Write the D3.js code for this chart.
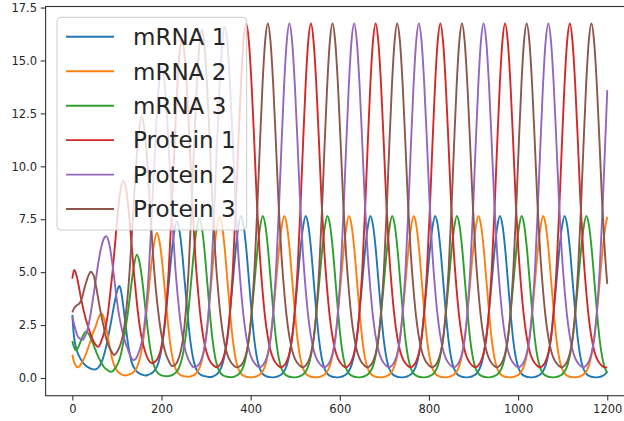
<!DOCTYPE html>
<html>
<head>
<meta charset="utf-8">
<script src="https://cdn.jsdelivr.net/npm/d3@7"></script>
<style>
  html, body { margin: 0; padding: 0; background: #fff; }
  svg { display: block; font-family: "DejaVu Sans", sans-serif; }
</style>
</head>
<body>
<div id="chart"></div>
<script>
const seriesNames = ["mRNA 1", "mRNA 2", "mRNA 3", "Protein 1", "Protein 2", "Protein 3"];
const xTicks = [0, 200, 400, 600, 800, 1000, 1200];
const yTicks = [0, 2.5, 5, 7.5, 10, 12.5, 15, 17.5];

// [time, level]
const mRNA1 = [
  [0,2.98],[3,2.1],[6,1.65],[10,1.3],[16,1.0],[24,0.72],[32,0.55],[40,0.45],[48,0.4],[55,0.43],[62,0.6],[68,0.88],[74,1.32],[80,1.9],[86,2.55],[92,3.25],[98,3.9],[102,4.22],[105.5,4.35],[109,4.15],[112,3.75],[115.5,3.2],[120,2.4],[126.5,1.4],[133,0.75],[141.5,0.38],[150,0.22],[158,0.15],[165,0.12],[170,0.15],[174.4,0.19],[180.4,0.26],[186.4,0.41],[192.4,0.68],[198.4,1.18],[204.4,1.99],[210.4,3.14],[216.4,4.5],[222.4,5.83],[228.4,6.88],[234.4,7.38],[240.4,6.95],[246.4,5.9],[252.4,4.47],[258.4,3.05],[264.4,1.8],[270.4,0.98],[276.4,0.5],[282.4,0.26],[288.4,0.15],[294.4,0.1],[300.4,0.07],[306.4,0.05],
  [312.2,0.05],[318.2,0.1],[324.2,0.18],[330.2,0.33],[336.2,0.62],[342.2,1.15],[348.2,2.0],[354.2,3.2],[360.2,4.6],[366.2,6.0],[372.2,7.1],[378.2,7.65],[384.2,7.2],[390.2,6.1],[396.2,4.6],[402.2,3.1],[408.2,1.8],[414.2,0.95],[420.2,0.46],[426.2,0.22],[432.2,0.11],[438.2,0.06],[444.2,0.04],[450.8,0.03],
  [457.4,0.05],[463.4,0.1],[469.4,0.18],[475.4,0.33],[481.4,0.62],[487.4,1.15],[493.4,2.0],[499.4,3.2],[505.4,4.6],[511.4,6.0],[517.4,7.1],[523.4,7.65],[529.4,7.2],[535.4,6.1],[541.4,4.6],[547.4,3.1],[553.4,1.8],[559.4,0.95],[565.4,0.46],[571.4,0.22],[577.4,0.11],[583.4,0.06],[589.4,0.04],[596,0.03],
  [602.6,0.05],[608.6,0.1],[614.6,0.18],[620.6,0.33],[626.6,0.62],[632.6,1.15],[638.6,2.0],[644.6,3.2],[650.6,4.6],[656.6,6.0],[662.6,7.1],[668.6,7.65],[674.6,7.2],[680.6,6.1],[686.6,4.6],[692.6,3.1],[698.6,1.8],[704.6,0.95],[710.6,0.46],[716.6,0.22],[722.6,0.11],[728.6,0.06],[734.6,0.04],[741.2,0.03],
  [747.8,0.05],[753.8,0.1],[759.8,0.18],[765.8,0.33],[771.8,0.62],[777.8,1.15],[783.8,2.0],[789.8,3.2],[795.8,4.6],[801.8,6.0],[807.8,7.1],[813.8,7.65],[819.8,7.2],[825.8,6.1],[831.8,4.6],[837.8,3.1],[843.8,1.8],[849.8,0.95],[855.8,0.46],[861.8,0.22],[867.8,0.11],[873.8,0.06],[879.8,0.04],[886.4,0.03],
  [893,0.05],[899,0.1],[905,0.18],[911,0.33],[917,0.62],[923,1.15],[929,2.0],[935,3.2],[941,4.6],[947,6.0],[953,7.1],[959,7.65],[965,7.2],[971,6.1],[977,4.6],[983,3.1],[989,1.8],[995,0.95],[1001,0.46],[1007,0.22],[1013,0.11],[1019,0.06],[1025,0.04],[1031.6,0.03],
  [1038.2,0.05],[1044.2,0.1],[1050.2,0.18],[1056.2,0.33],[1062.2,0.62],[1068.2,1.15],[1074.2,2.0],[1080.2,3.2],[1086.2,4.6],[1092.2,6.0],[1098.2,7.1],[1104.2,7.65],[1110.2,7.2],[1116.2,6.1],[1122.2,4.6],[1128.2,3.1],[1134.2,1.8],[1140.2,0.95],[1146.2,0.46],[1152.2,0.22],[1158.2,0.11],[1164.2,0.06],[1170.2,0.04],[1176.8,0.03],
  [1183.4,0.05],[1189.4,0.1],[1195.4,0.18],[1200,0.3]
];

const mRNA2 = [
  [0,1.1],[4,0.75],[7.6,0.6],[11,0.5],[16,0.55],[22,0.75],[28,1.0],[33.7,1.32],[40,1.7],[46,2.1],[52.5,2.45],[58,2.8],[62,2.98],[65.2,3.05],[69,2.95],[73,2.65],[78.6,2.1],[84,1.45],[90,0.85],[96,0.5],[102,0.3],[108,0.2],[114,0.14],[120,0.12],[123.5,0.14],[129.5,0.18],[135.5,0.25],[141.5,0.38],[147.5,0.64],[153.5,1.11],[159.5,1.86],[165.5,2.92],[171.5,4.16],[177.5,5.41],[183.5,6.36],[189.5,6.85],[195.5,6.44],[201.5,5.47],[207.5,4.13],[213.5,2.79],[219.5,1.63],[225.5,0.88],[231.5,0.44],[237.5,0.23],[243.5,0.13],[249.5,0.09],[255.5,0.07],[262,0.06],[270,0.11],[276,0.19],[282,0.34],[288,0.63],[294,1.16],[300,2.0],[306,3.2],[312,4.59],[318,5.98],[324,7.07],[330,7.62],[336,7.17],[342,6.08],[348,4.59],[354,3.09],[360,1.8],[366,0.95],[372,0.46],[378,0.22],[384,0.11],[390,0.06],[396,0.04],[402.6,0.03],
  [409.3,0.05],[415.3,0.1],[421.3,0.18],[427.3,0.33],[433.3,0.62],[439.3,1.15],[445.3,2.0],[451.3,3.2],[457.3,4.6],[463.3,6.0],[469.3,7.1],[475.3,7.65],[481.3,7.2],[487.3,6.1],[493.3,4.6],[499.3,3.1],[505.3,1.8],[511.3,0.95],[517.3,0.46],[523.3,0.22],[529.3,0.11],[535.3,0.06],[541.3,0.04],[547.9,0.03],
  [554.5,0.05],[560.5,0.1],[566.5,0.18],[572.5,0.33],[578.5,0.62],[584.5,1.15],[590.5,2.0],[596.5,3.2],[602.5,4.6],[608.5,6.0],[614.5,7.1],[620.5,7.65],[626.5,7.2],[632.5,6.1],[638.5,4.6],[644.5,3.1],[650.5,1.8],[656.5,0.95],[662.5,0.46],[668.5,0.22],[674.5,0.11],[680.5,0.06],[686.5,0.04],[693.1,0.03],
  [699.7,0.05],[705.7,0.1],[711.7,0.18],[717.7,0.33],[723.7,0.62],[729.7,1.15],[735.7,2.0],[741.7,3.2],[747.7,4.6],[753.7,6.0],[759.7,7.1],[765.7,7.65],[771.7,7.2],[777.7,6.1],[783.7,4.6],[789.7,3.1],[795.7,1.8],[801.7,0.95],[807.7,0.46],[813.7,0.22],[819.7,0.11],[825.7,0.06],[831.7,0.04],[838.3,0.03],
  [844.9,0.05],[850.9,0.1],[856.9,0.18],[862.9,0.33],[868.9,0.62],[874.9,1.15],[880.9,2.0],[886.9,3.2],[892.9,4.6],[898.9,6.0],[904.9,7.1],[910.9,7.65],[916.9,7.2],[922.9,6.1],[928.9,4.6],[934.9,3.1],[940.9,1.8],[946.9,0.95],[952.9,0.46],[958.9,0.22],[964.9,0.11],[970.9,0.06],[976.9,0.04],[983.5,0.03],
  [990.1,0.05],[996.1,0.1],[1002.1,0.18],[1008.1,0.33],[1014.1,0.62],[1020.1,1.15],[1026.1,2.0],[1032.1,3.2],[1038.1,4.6],[1044.1,6.0],[1050.1,7.1],[1056.1,7.65],[1062.1,7.2],[1068.1,6.1],[1074.1,4.6],[1080.1,3.1],[1086.1,1.8],[1092.1,0.95],[1098.1,0.46],[1104.1,0.22],[1110.1,0.11],[1116.1,0.06],[1122.1,0.04],[1128.7,0.03],
  [1135.3,0.05],[1141.3,0.1],[1147.3,0.18],[1153.3,0.33],[1159.3,0.62],[1165.3,1.15],[1171.3,2.0],[1177.3,3.2],[1183.3,4.6],[1189.3,6.0],[1195.3,7.1],[1200,7.62]
];

const mRNA3 = [
  [0,1.75],[3,1.5],[7.6,1.32],[12,1.4],[18,1.7],[24,2.0],[30,2.19],[36,2.1],[42,1.85],[48.7,1.5],[56,1.1],[63.7,0.77],[71,0.52],[78.6,0.38],[86,0.29],[91,0.33],[96.6,0.48],[102.6,0.7],[108.6,1.09],[114.6,1.71],[120.6,2.5],[126.6,3.4],[132.6,4.45],[138.6,5.35],[144.6,5.82],[150.6,5.48],[156.6,4.65],[162.6,3.52],[168.6,2.39],[174.6,1.41],[180.6,0.77],[186.6,0.4],[192.6,0.22],[198.6,0.14],[204.6,0.1],[212,0.08],[218.5,0.1],[224.5,0.15],[230.5,0.23],[236.5,0.37],[242.5,0.66],[248.5,1.17],[254.5,2.0],[260.5,3.18],[266.5,4.56],[272.5,5.93],[278.5,7.0],[284.5,7.55],[290.5,7.1],[296.5,6.03],[302.5,4.55],[308.5,3.07],[314.5,1.8],[320.5,0.96],[326.5,0.47],[332.5,0.23],[338.5,0.12],[344.5,0.07],[350.5,0.05],[356,0.04],
  [361,0.05],[367,0.1],[373,0.18],[379,0.33],[385,0.62],[391,1.15],[397,2.0],[403,3.2],[409,4.6],[415,6.0],[421,7.1],[427,7.65],[433,7.2],[439,6.1],[445,4.6],[451,3.1],[457,1.8],[463,0.95],[469,0.46],[475,0.22],[481,0.11],[487,0.06],[493,0.04],[499.6,0.03],
  [506.2,0.05],[512.2,0.1],[518.2,0.18],[524.2,0.33],[530.2,0.62],[536.2,1.15],[542.2,2.0],[548.2,3.2],[554.2,4.6],[560.2,6.0],[566.2,7.1],[572.2,7.65],[578.2,7.2],[584.2,6.1],[590.2,4.6],[596.2,3.1],[602.2,1.8],[608.2,0.95],[614.2,0.46],[620.2,0.22],[626.2,0.11],[632.2,0.06],[638.2,0.04],[644.8,0.03],
  [651.4,0.05],[657.4,0.1],[663.4,0.18],[669.4,0.33],[675.4,0.62],[681.4,1.15],[687.4,2.0],[693.4,3.2],[699.4,4.6],[705.4,6.0],[711.4,7.1],[717.4,7.65],[723.4,7.2],[729.4,6.1],[735.4,4.6],[741.4,3.1],[747.4,1.8],[753.4,0.95],[759.4,0.46],[765.4,0.22],[771.4,0.11],[777.4,0.06],[783.4,0.04],[790,0.03],
  [796.6,0.05],[802.6,0.1],[808.6,0.18],[814.6,0.33],[820.6,0.62],[826.6,1.15],[832.6,2.0],[838.6,3.2],[844.6,4.6],[850.6,6.0],[856.6,7.1],[862.6,7.65],[868.6,7.2],[874.6,6.1],[880.6,4.6],[886.6,3.1],[892.6,1.8],[898.6,0.95],[904.6,0.46],[910.6,0.22],[916.6,0.11],[922.6,0.06],[928.6,0.04],[935.2,0.03],
  [941.8,0.05],[947.8,0.1],[953.8,0.18],[959.8,0.33],[965.8,0.62],[971.8,1.15],[977.8,2.0],[983.8,3.2],[989.8,4.6],[995.8,6.0],[1001.8,7.1],[1007.8,7.65],[1013.8,7.2],[1019.8,6.1],[1025.8,4.6],[1031.8,3.1],[1037.8,1.8],[1043.8,0.95],[1049.8,0.46],[1055.8,0.22],[1061.8,0.11],[1067.8,0.06],[1073.8,0.04],[1080.4,0.03],
  [1087,0.05],[1093,0.1],[1099,0.18],[1105,0.33],[1111,0.62],[1117,1.15],[1123,2.0],[1129,3.2],[1135,4.6],[1141,6.0],[1147,7.1],[1153,7.65],[1159,7.2],[1165,6.1],[1171,4.6],[1177,3.1],[1183,1.8],[1189,0.95],[1195,0.46],[1200,0.25]
];

const protein1 = [
  [0,4.7],[4,5.1],[10,4.8],[16,4.15],[22,3.5],[30,2.8],[38,2.25],[45,1.85],[52,1.58],[58,1.47],[66,1.8],[72,2.2],[78.5,2.85],[84.5,3.9],[90.5,5.1],[96.5,6.5],[102.5,7.9],[108.5,8.95],[114.5,9.3],[120.5,8.95],[126.5,7.9],[132.5,6.4],[138.5,4.9],[144.5,3.6],[150.5,2.55],[156.5,1.8],[162.5,1.3],[168.5,0.95],[174.5,0.75],[180,0.7],[186,0.78],[192,0.95],[198,1.3],[204,2.0],[210,3.2],[216,5.0],[222,7.5],[228,10.4],[234,13.2],[240,15.2],[246,16.0],[252,15.2],[258,13.3],[264,10.7],[270,7.9],[276,5.7],[282,4.1],[288,2.8],[294,1.9],[300,1.3],[306,0.92],[312,0.7],[318,0.57],[324,0.5],
  [330,0.6],[336,0.8],[342,1.2],[348,1.9],[354,3.2],[360,5.1],[366,7.8],[372,10.9],[378,13.8],[384,15.9],[390,16.75],[396,15.9],[402,13.9],[408,11.2],[414,8.3],[420,6.0],[426,4.3],[432,2.95],[438,2.0],[444,1.35],[450,0.95],[456,0.72],[462,0.58],[468,0.5],
  [475.2,0.6],[481.2,0.8],[487.2,1.2],[493.2,1.9],[499.2,3.2],[505.2,5.1],[511.2,7.8],[517.2,10.9],[523.2,13.8],[529.2,15.9],[535.2,16.75],[541.2,15.9],[547.2,13.9],[553.2,11.2],[559.2,8.3],[565.2,6.0],[571.2,4.3],[577.2,2.95],[583.2,2.0],[589.2,1.35],[595.2,0.95],[601.2,0.72],[607.2,0.58],[613.2,0.5],
  [620.4,0.6],[626.4,0.8],[632.4,1.2],[638.4,1.9],[644.4,3.2],[650.4,5.1],[656.4,7.8],[662.4,10.9],[668.4,13.8],[674.4,15.9],[680.4,16.75],[686.4,15.9],[692.4,13.9],[698.4,11.2],[704.4,8.3],[710.4,6.0],[716.4,4.3],[722.4,2.95],[728.4,2.0],[734.4,1.35],[740.4,0.95],[746.4,0.72],[752.4,0.58],[758.4,0.5],
  [765.6,0.6],[771.6,0.8],[777.6,1.2],[783.6,1.9],[789.6,3.2],[795.6,5.1],[801.6,7.8],[807.6,10.9],[813.6,13.8],[819.6,15.9],[825.6,16.75],[831.6,15.9],[837.6,13.9],[843.6,11.2],[849.6,8.3],[855.6,6.0],[861.6,4.3],[867.6,2.95],[873.6,2.0],[879.6,1.35],[885.6,0.95],[891.6,0.72],[897.6,0.58],[903.6,0.5],
  [910.8,0.6],[916.8,0.8],[922.8,1.2],[928.8,1.9],[934.8,3.2],[940.8,5.1],[946.8,7.8],[952.8,10.9],[958.8,13.8],[964.8,15.9],[970.8,16.75],[976.8,15.9],[982.8,13.9],[988.8,11.2],[994.8,8.3],[1000.8,6.0],[1006.8,4.3],[1012.8,2.95],[1018.8,2.0],[1024.8,1.35],[1030.8,0.95],[1036.8,0.72],[1042.8,0.58],[1048.8,0.5],
  [1056,0.6],[1062,0.8],[1068,1.2],[1074,1.9],[1080,3.2],[1086,5.1],[1092,7.8],[1098,10.9],[1104,13.8],[1110,15.9],[1116,16.75],[1122,15.9],[1128,13.9],[1134,11.2],[1140,8.3],[1146,6.0],[1152,4.3],[1158,2.95],[1164,2.0],[1170,1.35],[1176,0.95],[1182,0.72],[1188,0.58],[1194,0.5],[1200,0.5]
];

const protein2 = [
  [0,2.9],[5,2.45],[11,2.03],[17,1.85],[22.5,1.8],[28,1.95],[34,2.3],[40,2.9],[46,3.7],[52,4.55],[58,5.4],[64,6.1],[70,6.55],[76,6.7],[82,6.4],[88,5.68],[94,4.7],[100,3.66],[106,2.83],[112,2.22],[118,1.73],[124,1.39],[130,1.05],[137,0.85],[142,0.9],[146.8,1.1],[152.8,1.45],[158.8,2.04],[164.8,3.15],[170.8,4.77],[176.8,7.07],[182.8,9.71],[188.8,12.18],[194.8,13.98],[200.8,14.7],[206.8,13.96],[212.8,12.21],[218.8,9.83],[224.8,7.3],[230.8,5.27],[236.8,3.79],[242.8,2.61],[248.8,1.77],[254.8,1.2],[260.8,0.86],[266.8,0.62],[272.8,0.5],[282,0.6],[288,0.79],[294,1.19],[300,1.88],[306,3.17],[312,5.06],[318,7.73],[324,10.8],[330,13.67],[336,15.76],[342,16.6],[348,15.76],[354,13.78],[360,11.1],[366,8.23],[372,5.94],[378,4.27],[384,2.93],[390,1.98],[396,1.34],[402,0.95],[408,0.72],[414,0.58],[420,0.5],
  [427,0.6],[433,0.8],[439,1.2],[445,1.9],[451,3.2],[457,5.1],[463,7.8],[469,10.9],[475,13.8],[481,15.9],[487,16.75],[493,15.9],[499,13.9],[505,11.2],[511,8.3],[517,6.0],[523,4.3],[529,2.95],[535,2.0],[541,1.35],[547,0.95],[553,0.72],[559,0.58],[565,0.5],
  [572.2,0.6],[578.2,0.8],[584.2,1.2],[590.2,1.9],[596.2,3.2],[602.2,5.1],[608.2,7.8],[614.2,10.9],[620.2,13.8],[626.2,15.9],[632.2,16.75],[638.2,15.9],[644.2,13.9],[650.2,11.2],[656.2,8.3],[662.2,6.0],[668.2,4.3],[674.2,2.95],[680.2,2.0],[686.2,1.35],[692.2,0.95],[698.2,0.72],[704.2,0.58],[710.2,0.5],
  [717.4,0.6],[723.4,0.8],[729.4,1.2],[735.4,1.9],[741.4,3.2],[747.4,5.1],[753.4,7.8],[759.4,10.9],[765.4,13.8],[771.4,15.9],[777.4,16.75],[783.4,15.9],[789.4,13.9],[795.4,11.2],[801.4,8.3],[807.4,6.0],[813.4,4.3],[819.4,2.95],[825.4,2.0],[831.4,1.35],[837.4,0.95],[843.4,0.72],[849.4,0.58],[855.4,0.5],
  [862.6,0.6],[868.6,0.8],[874.6,1.2],[880.6,1.9],[886.6,3.2],[892.6,5.1],[898.6,7.8],[904.6,10.9],[910.6,13.8],[916.6,15.9],[922.6,16.75],[928.6,15.9],[934.6,13.9],[940.6,11.2],[946.6,8.3],[952.6,6.0],[958.6,4.3],[964.6,2.95],[970.6,2.0],[976.6,1.35],[982.6,0.95],[988.6,0.72],[994.6,0.58],[1000.6,0.5],
  [1007.8,0.6],[1013.8,0.8],[1019.8,1.2],[1025.8,1.9],[1031.8,3.2],[1037.8,5.1],[1043.8,7.8],[1049.8,10.9],[1055.8,13.8],[1061.8,15.9],[1067.8,16.75],[1073.8,15.9],[1079.8,13.9],[1085.8,11.2],[1091.8,8.3],[1097.8,6.0],[1103.8,4.3],[1109.8,2.95],[1115.8,2.0],[1121.8,1.35],[1127.8,0.95],[1133.8,0.72],[1139.8,0.58],[1145.8,0.5],
  [1153,0.6],[1159,0.8],[1165,1.2],[1171,1.9],[1177,3.2],[1183,5.1],[1189,7.8],[1195,10.9],[1200,13.6]
];

const protein3 = [
  [0,3.1],[4,3.3],[11,3.45],[17,3.55],[22,3.8],[26,4.15],[30,4.45],[34,4.72],[38,4.93],[41.3,5.02],[45,4.95],[48.7,4.78],[52,4.45],[56,4.0],[60,3.5],[64,3.05],[70,2.45],[75,1.95],[80,1.6],[86,1.32],[93.6,1.09],[101.8,1.29],[107.8,1.57],[113.8,2.06],[119.8,2.96],[125.8,4.28],[131.8,6.15],[137.8,8.3],[143.8,10.3],[149.8,11.76],[155.8,12.35],[161.8,11.74],[167.8,10.28],[173.8,8.31],[179.8,6.2],[185.8,4.53],[191.8,3.3],[197.8,2.31],[203.8,1.62],[209.8,1.13],[215.8,0.82],[224,0.57],[230.6,0.62],[236.6,0.82],[242.6,1.21],[248.6,1.9],[254.6,3.17],[260.6,5.03],[266.6,7.68],[272.6,10.72],[278.6,13.55],[284.6,15.62],[290.6,16.45],[296.6,15.62],[302.6,13.66],[308.6,11.0],[314.6,8.16],[320.6,5.89],[326.6,4.23],[332.6,2.91],[338.6,1.97],[344.6,1.33],[350.6,0.95],[356.6,0.72],[362.6,0.58],[368.6,0.5],
  [378.5,0.6],[384.5,0.8],[390.5,1.2],[396.5,1.9],[402.5,3.2],[408.5,5.1],[414.5,7.8],[420.5,10.9],[426.5,13.8],[432.5,15.9],[438.5,16.75],[444.5,15.9],[450.5,13.9],[456.5,11.2],[462.5,8.3],[468.5,6.0],[474.5,4.3],[480.5,2.95],[486.5,2.0],[492.5,1.35],[498.5,0.95],[504.5,0.72],[510.5,0.58],[516.5,0.5],
  [523.7,0.6],[529.7,0.8],[535.7,1.2],[541.7,1.9],[547.7,3.2],[553.7,5.1],[559.7,7.8],[565.7,10.9],[571.7,13.8],[577.7,15.9],[583.7,16.75],[589.7,15.9],[595.7,13.9],[601.7,11.2],[607.7,8.3],[613.7,6.0],[619.7,4.3],[625.7,2.95],[631.7,2.0],[637.7,1.35],[643.7,0.95],[649.7,0.72],[655.7,0.58],[661.7,0.5],
  [668.9,0.6],[674.9,0.8],[680.9,1.2],[686.9,1.9],[692.9,3.2],[698.9,5.1],[704.9,7.8],[710.9,10.9],[716.9,13.8],[722.9,15.9],[728.9,16.75],[734.9,15.9],[740.9,13.9],[746.9,11.2],[752.9,8.3],[758.9,6.0],[764.9,4.3],[770.9,2.95],[776.9,2.0],[782.9,1.35],[788.9,0.95],[794.9,0.72],[800.9,0.58],[806.9,0.5],
  [814.1,0.6],[820.1,0.8],[826.1,1.2],[832.1,1.9],[838.1,3.2],[844.1,5.1],[850.1,7.8],[856.1,10.9],[862.1,13.8],[868.1,15.9],[874.1,16.75],[880.1,15.9],[886.1,13.9],[892.1,11.2],[898.1,8.3],[904.1,6.0],[910.1,4.3],[916.1,2.95],[922.1,2.0],[928.1,1.35],[934.1,0.95],[940.1,0.72],[946.1,0.58],[952.1,0.5],
  [959.3,0.6],[965.3,0.8],[971.3,1.2],[977.3,1.9],[983.3,3.2],[989.3,5.1],[995.3,7.8],[1001.3,10.9],[1007.3,13.8],[1013.3,15.9],[1019.3,16.75],[1025.3,15.9],[1031.3,13.9],[1037.3,11.2],[1043.3,8.3],[1049.3,6.0],[1055.3,4.3],[1061.3,2.95],[1067.3,2.0],[1073.3,1.35],[1079.3,0.95],[1085.3,0.72],[1091.3,0.58],[1097.3,0.5],
  [1104.5,0.6],[1110.5,0.8],[1116.5,1.2],[1122.5,1.9],[1128.5,3.2],[1134.5,5.1],[1140.5,7.8],[1146.5,10.9],[1152.5,13.8],[1158.5,15.9],[1164.5,16.75],[1170.5,15.9],[1176.5,13.9],[1182.5,11.2],[1188.5,8.3],[1194.5,6.0],[1200,4.45]
];

const allSeries = [mRNA1, mRNA2, mRNA3, protein1, protein2, protein3];

const width = 624;
const height = 421;
const plot = { left: 45.6, right: 634, top: 6.5, bottom: 395.7 };

const svg = d3
  .select("#chart")
  .append("svg")
  .attr("width", width)
  .attr("height", height)
  .attr("viewBox", [0, 0, width, height]);

const x = d3.scaleLinear().domain([-60, 1260]).range([plot.left, plot.right]);
const y = d3.scaleLinear().domain([-0.836, 17.55]).range([plot.bottom, plot.top]);

const color = d3.scaleOrdinal().domain(seriesNames).range(d3.schemeCategory10);

const line = d3
  .line()
  .x((d) => x(d[0]))
  .y((d) => y(d[1]))
  .curve(d3.curveMonotoneX);

svg
  .append("g")
  .selectAll("path")
  .data(allSeries)
  .join("path")
  .attr("d", line)
  .attr("fill", "none")
  .attr("stroke", (d, i) => color(seriesNames[i]))
  .attr("stroke-width", 1.9)
  .attr("stroke-linejoin", "round");

// axes
const xAxis = svg
  .append("g")
  .attr("transform", `translate(0, ${plot.bottom})`)
  .call(
    d3.axisBottom(x).tickValues(xTicks).tickFormat(d3.format("d")).tickSize(4.9).tickPadding(4.3)
  );

const yAxis = svg
  .append("g")
  .attr("transform", `translate(${plot.left}, 0)`)
  .call(
    d3.axisLeft(y).tickValues(yTicks).tickFormat(d3.format(".1f")).tickSize(4.9).tickPadding(3.6)
  );

[xAxis, yAxis].forEach((g) => {
  g.select(".domain").remove();
  g.selectAll("line").attr("stroke", "#333").attr("stroke-width", 1.1);
  g.selectAll("text")
    .attr("fill", "#262626")
    .style("font-size", "11.5px")
    .style("font-family", '"DejaVu Sans", sans-serif');
});

// spines
svg
  .append("rect")
  .attr("x", plot.left)
  .attr("y", plot.top)
  .attr("width", plot.right - plot.left)
  .attr("height", plot.bottom - plot.top)
  .attr("fill", "none")
  .attr("stroke", "#333")
  .attr("stroke-width", 1.1);

// legend
const legend = svg.append("g").attr("class", "legend");

legend
  .append("rect")
  .attr("x", 57)
  .attr("y", 17.3)
  .attr("width", 189.7)
  .attr("height", 212.7)
  .attr("rx", 4)
  .attr("fill", "#fff")
  .attr("fill-opacity", 0.8)
  .attr("stroke", "#ccc")
  .attr("stroke-width", 1);

const items = legend
  .selectAll("g.item")
  .data(seriesNames)
  .join("g")
  .attr("class", "item")
  .attr("transform", (d, i) => `translate(0, ${36.8 + i * 34.45})`);

items
  .append("line")
  .attr("x1", 66)
  .attr("x2", 114)
  .attr("stroke", (d) => color(d))
  .attr("stroke-width", 1.9);

items
  .append("text")
  .attr("x", 133)
  .attr("y", 8.3)
  .attr("fill", "#262626")
  .style("font-size", "23px")
  .text((d) => d);
</script>
</body>
</html>
